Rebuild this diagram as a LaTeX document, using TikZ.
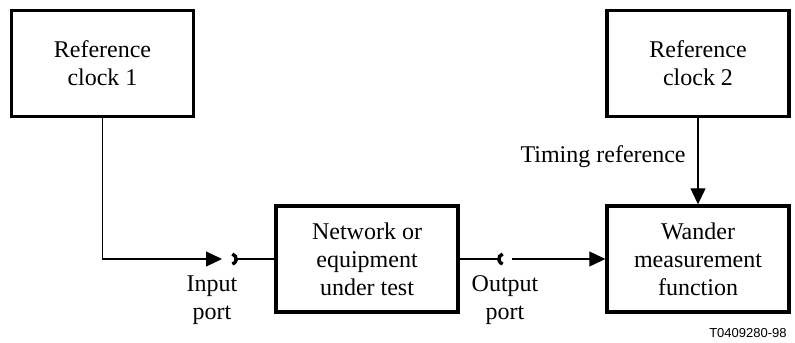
\documentclass[tikz,border=0pt]{standalone}
\usepackage{fontspec}
\setmainfont{Liberation Serif}
\newfontfamily\tagfont{Liberation Sans}
\usepackage{tikz}
\usetikzlibrary{arrows.meta}

\begin{document}
\begin{tikzpicture}[x=0.5pt,y=-0.5pt,
  blk/.style={draw,line width=1.7pt,minimum width=91pt,minimum height=53pt,
    inner sep=0pt,align=center,font=\fontsize{12}{14}\selectfont},
  lbl/.style={align=center,inner sep=0pt,font=\fontsize{12}{14}\selectfont},
  conn/.style={line width=0.6pt},
  arr/.style={conn,-{Triangle[length=8pt,width=7.5pt]}},
  port/.style={line width=1.7pt}]
\useasboundingbox (0,0) rectangle (795,342);

\node[blk] (clkone) at (102.5,63.5) {Reference\\clock 1};
\node[blk] (clktwo) at (698,63.5) {Reference\\clock 2};
\node[blk] (dut) at (367,259) {Network or\\equipment\\under test};
\node[blk] (wmf) at (698,259) {Wander\\measurement\\function};

% ports
\coordinate (pin) at (231,259);
\coordinate (pout) at (504,259);
\draw[port] (pin) ++(75:2.6pt) arc[start angle=75,end angle=-75,radius=2.6pt];
\draw[port] (pout) ++(105:2.6pt) arc[start angle=105,end angle=255,radius=2.6pt];

% connectors
\draw[arr,shorten >=4.5pt] (clkone.south) |- (pin);
\draw[conn,shorten <=3pt] (pin) -- (dut.west);
\draw[conn,shorten >=3pt] (dut.east) -- (pout);
\draw[arr,shorten <=4pt] (pout) -- (wmf.west);
\draw[arr] (clktwo.south) -- (wmf.north);

% labels
\node[lbl] (inlbl) at (212,300) {Input\\port};
\node[lbl] (outlbl) at (505,300) {Output\\port};
\node[lbl,anchor=east] (tref) at (686,157) {Timing reference};
\node[anchor=east,inner sep=0pt,font=\tagfont\fontsize{6.5}{8}\selectfont] (tag) at (787,333) {T0409280-98};
\end{tikzpicture}
\end{document}
